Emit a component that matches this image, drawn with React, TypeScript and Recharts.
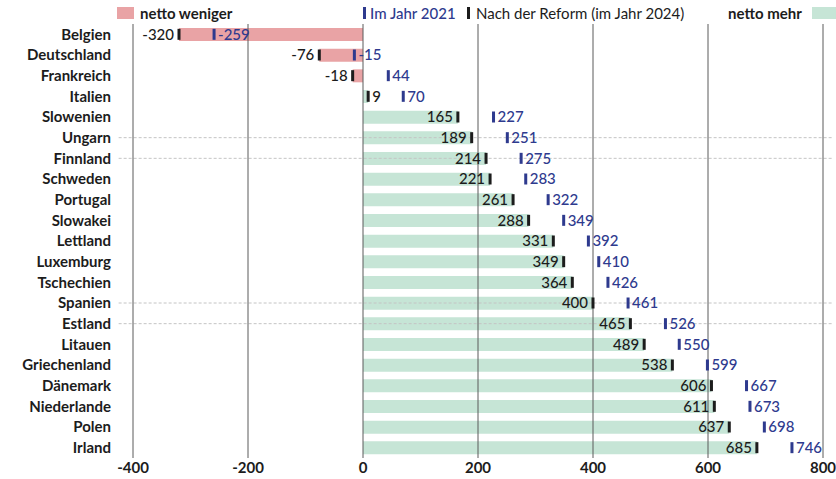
import { ComposedChart, Bar, Line, XAxis, YAxis, ReferenceLine, Cell } from 'recharts';

// Netto-Veränderung je Land: nach der Reform (2024) und im Jahr 2021
const countries = [
    'Belgien', 'Deutschland', 'Frankreich', 'Italien', 'Slowenien', 'Ungarn', 'Finnland',
    'Schweden', 'Portugal', 'Slowakei', 'Lettland', 'Luxemburg', 'Tschechien', 'Spanien',
    'Estland', 'Litauen', 'Griechenland', 'Dänemark', 'Niederlande', 'Polen', 'Irland',
];
const reform2024 = [-320, -76, -18, 9, 165, 189, 214, 221, 261, 288, 331, 349, 364, 400, 465, 489, 538, 606, 611, 637, 685];
const jahr2021 = [-259, -15, 44, 70, 227, 251, 275, 283, 322, 349, 392, 410, 426, 461, 526, 550, 599, 667, 673, 698, 746];
const xTicks = [-400, -200, 0, 200, 400, 600, 800];
const dashedRows = ['Ungarn', 'Finnland', 'Spanien', 'Estland'];

const PINK = '#e9a3a5';
const GREEN = '#c6e5d6';
const BLUE = '#2e3a8e';
const DARK = '#1c1c1c';
const FONT = 'Lato, "Open Sans", sans-serif';

const data = countries.map((name, i) => ({ name, reform: reform2024[i], y2021: jahr2021[i] }));

// schwarzer Strich + Wert (Nach der Reform)
const ReformDot = (props: any) => {
    const { cx, cy, payload, index } = props;
    const v = payload.reform;
    const after = v > 0 && v < 30; // sehr kurze Balken: Beschriftung rechts
    return (
        <g key={`r-${index}`}>
            <rect x={cx - 1.5} y={cy - 5.5} width={3} height={11} fill={DARK} />
            <text
                x={after ? cx + 4 : cx - 5}
                y={cy}
                dy="0.36em"
                textAnchor={after ? 'start' : 'end'}
                fontSize={15}
                fontWeight={500}
                fill={DARK}
                fontFamily={FONT}
            >
                {v}
            </text>
        </g>
    );
};

// blauer Strich + Wert (2021)
const Dot2021 = (props: any) => {
    const { cx, cy, payload, index } = props;
    return (
        <g key={`b-${index}`}>
            <rect x={cx - 1.5} y={cy - 5.5} width={3} height={11} fill={BLUE} />
            <text x={cx + 4} y={cy} dy="0.36em" textAnchor="start" fontSize={15} fontWeight={500} fill={BLUE} fontFamily={FONT}>
                {payload.y2021}
            </text>
        </g>
    );
};

function LegendRow() {
    const txt = { position: 'absolute' as const, top: 3, fontSize: 15, lineHeight: '20px', whiteSpace: 'nowrap' as const };
    return (
        <>
            <div style={{ position: 'absolute', left: 117, top: 7, width: 17, height: 12, background: PINK }} />
            <div style={{ ...txt, left: 140, fontWeight: 700, color: DARK }}>netto weniger</div>
            <div style={{ position: 'absolute', left: 363, top: 7, width: 3, height: 12, background: BLUE }} />
            <div style={{ ...txt, left: 370, color: BLUE, fontWeight: 500 }}>Im Jahr 2021</div>
            <div style={{ position: 'absolute', left: 467, top: 7, width: 3, height: 12, background: DARK }} />
            <div style={{ ...txt, left: 476, color: DARK }}>Nach der Reform (im Jahr 2024)</div>
            <div style={{ ...txt, left: 728, fontWeight: 700, color: DARK }}>netto mehr</div>
            <div style={{ position: 'absolute', left: 812, top: 7, width: 24, height: 12, background: GREEN }} />
        </>
    );
}

export default function App() {
    return (
        <div style={{ position: 'absolute', left: 0, top: 0, width: 836, height: 479, fontFamily: FONT, background: '#fff' }}>
            <LegendRow />
            <ComposedChart
                width={836}
                height={479}
                data={data}
                layout="vertical"
                margin={{ top: 24, right: 13, left: 0, bottom: 0 }}
                style={{ fontFamily: FONT }}
            >
                <XAxis
                    type="number"
                    domain={[-400, 800]}
                    ticks={xTicks}
                    axisLine={false}
                    tickLine={false}
                    tickSize={0}
                    tickMargin={4}
                    height={21}
                    interval={0}
                    tick={{ fontSize: 15, fontWeight: 700, fill: DARK }}
                />
                <YAxis
                    type="category"
                    dataKey="name"
                    width={133}
                    axisLine={false}
                    tickLine={false}
                    tickSize={0}
                    tickMargin={22}
                    interval={0}
                    tick={{ fontSize: 15, fontWeight: 700, fill: DARK }}
                />
                {dashedRows.map((r) => (
                    <ReferenceLine
                        key={r}
                        segment={[{ x: -425, y: r }, { x: 815, y: r }]}
                        ifOverflow="visible"
                        stroke="#c4c4c4"
                        strokeDasharray="3 2"
                    />
                ))}
                <Bar dataKey="reform" barSize={13} isAnimationActive={false}>
                    {data.map((d, i) => (
                        <Cell key={`c-${i}`} fill={d.reform < 0 ? PINK : GREEN} />
                    ))}
                </Bar>
                {xTicks.map((t) => (
                    <ReferenceLine key={t} x={t} stroke="#5a5a5a" strokeWidth={1} />
                ))}
                <Line dataKey="reform" stroke="none" dot={ReformDot} activeDot={false} isAnimationActive={false} />
                <Line dataKey="y2021" stroke="none" dot={Dot2021} activeDot={false} isAnimationActive={false} />
            </ComposedChart>
        </div>
    );
}
